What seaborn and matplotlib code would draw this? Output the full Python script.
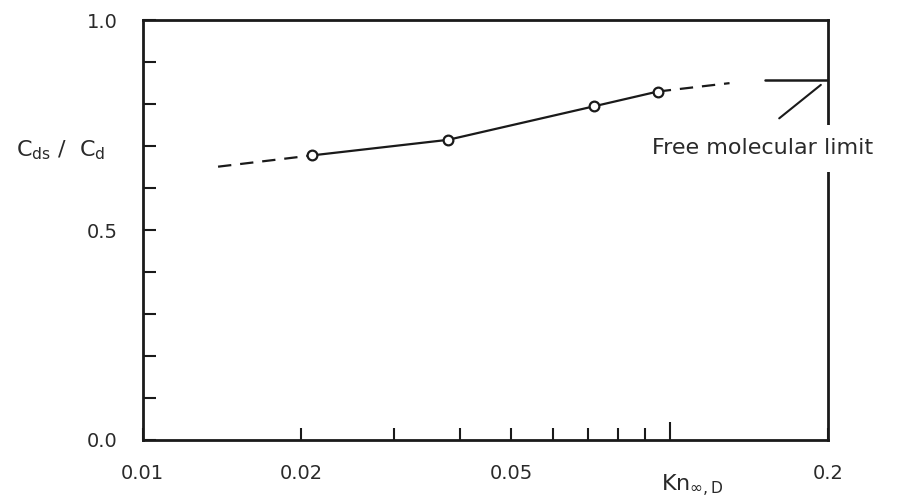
import matplotlib
matplotlib.use("Agg")
import matplotlib.pyplot as plt
import seaborn as sns
import pandas as pd
from matplotlib.ticker import NullFormatter, FixedLocator, FixedFormatter

# ---- data ----
kn_measured = [0.021, 0.038, 0.072, 0.095]
ratio_measured = [0.678, 0.715, 0.795, 0.830]

kn_extrap_low = [0.0139, 0.021]
ratio_extrap_low = [0.651, 0.678]

kn_extrap_high = [0.095, 0.130]
ratio_extrap_high = [0.830, 0.850]

kn_fm = [0.152, 0.2]
ratio_fm = [0.857, 0.857]

x_minor_ticks = [0.01, 0.02, 0.03, 0.04, 0.05, 0.06, 0.07, 0.08, 0.09, 0.2]
x_minor_labels = ["0.01", "0.02", "", "", "0.05", "", "", "", "", "0.2"]
x_major_ticks = [0.1]
y_major = [0.0, 0.5, 1.0]
y_major_labels = ["0.0", "0.5", "1.0"]
y_minor = [0.1, 0.2, 0.3, 0.4, 0.6, 0.7, 0.8, 0.9]

sns.set_theme(style="white")
plt.rcParams["font.family"] = ["DejaVu Sans"]
plt.rcParams["mathtext.fontset"] = "dejavusans"

ink = "#1a1a1a"
txt = "#2a2a2a"

fig = plt.figure(figsize=(9.09, 5.04), dpi=100)
ax = fig.add_axes([0.157, 0.127, 0.754, 0.833])

df = pd.DataFrame({"kn": kn_measured, "ratio": ratio_measured})
sns.lineplot(data=df, x="kn", y="ratio", ax=ax, color=ink, linewidth=1.6,
             marker="o", markersize=7, markerfacecolor="white",
             markeredgecolor=ink, markeredgewidth=1.6, zorder=3)

df_lo = pd.DataFrame({"kn": kn_extrap_low, "ratio": ratio_extrap_low})
sns.lineplot(data=df_lo, x="kn", y="ratio", ax=ax, color=ink,
             linewidth=1.6, zorder=2).lines[-1].set_dashes([6, 4])

df_hi = pd.DataFrame({"kn": kn_extrap_high, "ratio": ratio_extrap_high})
sns.lineplot(data=df_hi, x="kn", y="ratio", ax=ax, color=ink,
             linewidth=1.6, zorder=2).lines[-1].set_dashes([6, 4])

df_fm = pd.DataFrame({"kn": kn_fm, "ratio": ratio_fm})
sns.lineplot(data=df_fm, x="kn", y="ratio", ax=ax, color=ink,
             linewidth=1.8, zorder=2)

ax.set_xscale("log")
ax.set_xlim(0.01, 0.2)
ax.set_ylim(0.0, 1.0)

# annotation pointer and label
ax.annotate("", xy=(0.1956, 0.85), xytext=(0.160, 0.762),
            arrowprops=dict(arrowstyle="-", color=ink, lw=1.5))
ax.text(0.1505, 0.695, "Free molecular limit", ha="center", va="center",
        fontsize=16, color=txt, clip_on=False, zorder=5,
        bbox=dict(boxstyle="square,pad=0.6", fc="white", ec="none"))

ax.xaxis.set_major_locator(FixedLocator(x_major_ticks))
ax.xaxis.set_major_formatter(FixedFormatter([""]))
ax.xaxis.set_minor_locator(FixedLocator(x_minor_ticks))
ax.xaxis.set_minor_formatter(FixedFormatter(x_minor_labels))

ax.set_yticks(y_major)
ax.set_yticklabels(y_major_labels)
ax.set_yticks(y_minor, minor=True)

ax.tick_params(axis="x", which="both", bottom=True, direction="in",
               width=1.5, pad=17, labelsize=14, colors=ink, labelcolor=txt)
ax.tick_params(axis="x", which="minor", length=9)
ax.tick_params(axis="x", which="major", length=13)
ax.tick_params(axis="y", which="both", left=True, direction="in", length=9,
               width=1.5, pad=18, labelsize=14, colors=ink, labelcolor=txt)

for s in ax.spines.values():
    s.set_color(ink)
    s.set_linewidth(2.0)
    s.set_visible(True)

ax.set_xlabel("")
ax.set_ylabel("")

fig.text(61 / 909, 1 - 150 / 504, r"C$_{\mathrm{ds}}$ /  C$_{\mathrm{d}}$",
         ha="center", va="center", fontsize=16, color=txt)
fig.text(692 / 909, 1 - 486 / 504, r"Kn$_{\infty,\mathrm{D}}$",
         ha="center", va="center", fontsize=16, color=txt)

fig.savefig("out.png", dpi=100, facecolor="white")
